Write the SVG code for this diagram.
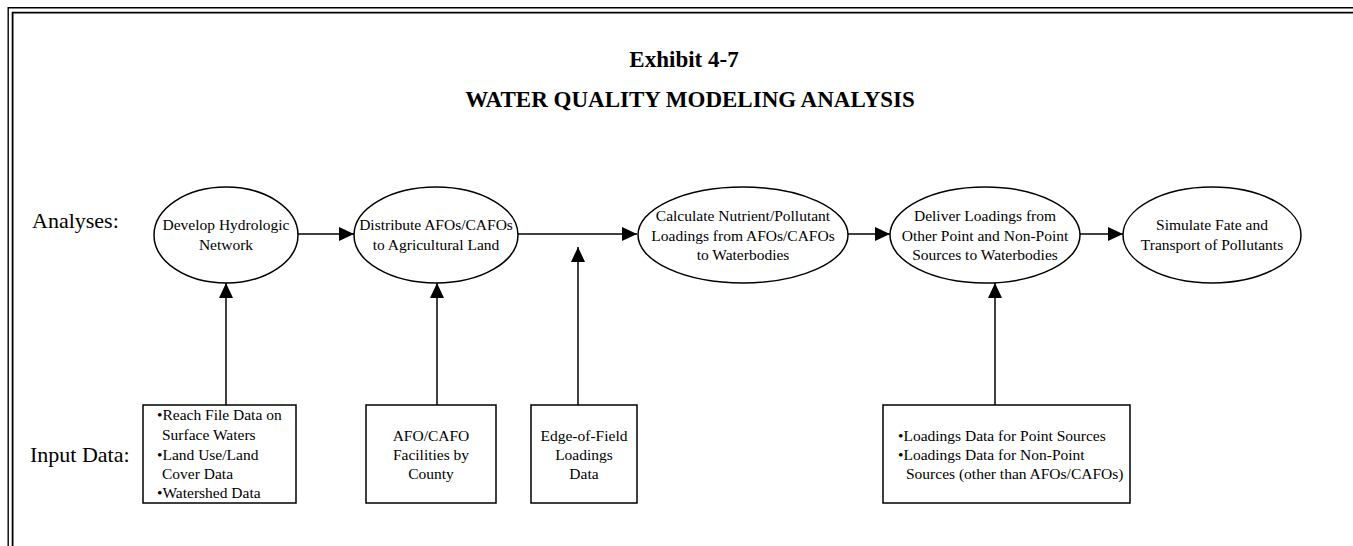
<svg xmlns="http://www.w3.org/2000/svg" width="1353" height="546" viewBox="0 0 1353 546">
<style>
.t{font-family:"Liberation Serif","Times New Roman",serif;font-size:15.5px;fill:#000}
.c{text-anchor:middle}
.lbl{font-family:"Liberation Serif","Times New Roman",serif;font-size:22px;fill:#000}
.ttl{font-family:"Liberation Serif","Times New Roman",serif;font-size:23px;font-weight:bold;fill:#000;text-anchor:middle}
.n{fill:#fff;stroke:#000;stroke-width:1.5}
.e{stroke:#000;stroke-width:1.5;fill:none;marker-end:url(#ah)}
.f{stroke:#000;fill:none}
</style>
<defs>
<marker id="ah" markerUnits="userSpaceOnUse" markerWidth="16" markerHeight="14" refX="15" refY="7" orient="auto">
<path d="M0,0 L15,7 L0,14 Z" fill="#000"/>
</marker>
</defs>
<rect width="1353" height="546" fill="#fff"/>
<g id="frame">
<path class="f" stroke-width="1.4" d="M8.2,546 V7.8 H1353"/>
<path class="f" stroke-width="1.8" d="M12.6,546 V12.6 H1353"/>
</g>
<g id="title">
<text class="ttl" x="684" y="67">Exhibit 4-7</text>
<text class="ttl" x="690" y="107">WATER QUALITY MODELING ANALYSIS</text>
</g>
<text class="lbl" x="32" y="228">Analyses:</text>
<text class="lbl" x="30" y="462">Input Data:</text>
<g id="connectors">
<line class="e" x1="297" y1="234" x2="354" y2="234"/>
<line class="e" x1="518" y1="234" x2="637" y2="234"/>
<line class="e" x1="848" y1="234" x2="890" y2="234"/>
<line class="e" x1="1080" y1="234" x2="1123" y2="234"/>
<line class="e" x1="226" y1="405" x2="226" y2="283"/>
<line class="e" x1="437" y1="405" x2="437" y2="283"/>
<line class="e" x1="578" y1="405" x2="578" y2="247"/>
<line class="e" x1="995" y1="405" x2="995" y2="283"/>
</g>
<g id="n1">
<ellipse class="n" cx="226" cy="235" rx="72" ry="48"/>
<text class="t c" x="226" y="230">Develop Hydrologic</text>
<text class="t c" x="226" y="250">Network</text>
</g>
<g id="n2">
<ellipse class="n" cx="436" cy="235" rx="82" ry="48"/>
<text class="t c" x="436" y="230">Distribute AFOs/CAFOs</text>
<text class="t c" x="436" y="250">to Agricultural Land</text>
</g>
<g id="n3">
<ellipse class="n" cx="743" cy="235" rx="105" ry="48"/>
<text class="t c" x="743" y="221">Calculate Nutrient/Pollutant</text>
<text class="t c" x="743" y="240.5">Loadings from AFOs/CAFOs</text>
<text class="t c" x="743" y="260">to Waterbodies</text>
</g>
<g id="n4">
<ellipse class="n" cx="985" cy="235" rx="95" ry="48"/>
<text class="t c" x="985" y="221">Deliver Loadings from</text>
<text class="t c" x="985" y="240.5">Other Point and Non-Point</text>
<text class="t c" x="985" y="260">Sources to Waterbodies</text>
</g>
<g id="n5">
<ellipse class="n" cx="1212" cy="235" rx="89" ry="48"/>
<text class="t c" x="1212" y="230">Simulate Fate and</text>
<text class="t c" x="1212" y="250">Transport of Pollutants</text>
</g>
<g id="b1">
<rect class="n" x="143" y="405" width="153" height="98"/>
<text class="t" x="157" y="420">•Reach File Data on</text>
<text class="t" x="162" y="440">Surface Waters</text>
<text class="t" x="157" y="460">•Land Use/Land</text>
<text class="t" x="162" y="479">Cover Data</text>
<text class="t" x="157" y="498">•Watershed Data</text>
</g>
<g id="b2">
<rect class="n" x="366" y="405" width="130" height="98"/>
<text class="t c" x="431" y="441">AFO/CAFO</text>
<text class="t c" x="431" y="460">Facilities by</text>
<text class="t c" x="431" y="479">County</text>
</g>
<g id="b3">
<rect class="n" x="531" y="405" width="106" height="98"/>
<text class="t c" x="584" y="441">Edge-of-Field</text>
<text class="t c" x="584" y="460">Loadings</text>
<text class="t c" x="584" y="479">Data</text>
</g>
<g id="b4">
<rect class="n" x="883" y="405" width="247" height="98"/>
<text class="t" x="898" y="441">•Loadings Data for Point Sources</text>
<text class="t" x="898" y="460">•Loadings Data for Non-Point</text>
<text class="t" x="906" y="479">Sources (other than AFOs/CAFOs)</text>
</g>
</svg>
